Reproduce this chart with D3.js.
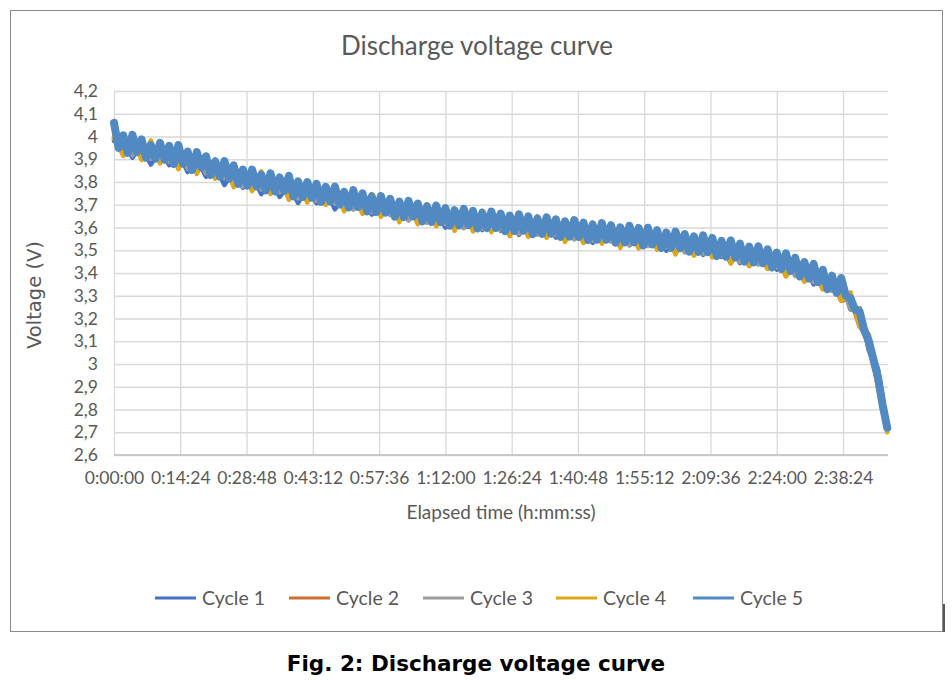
<!DOCTYPE html>
<html>
<head>
<meta charset="utf-8">
<script src="https://cdn.jsdelivr.net/npm/d3@7"></script>
<style>
  html, body { margin: 0; padding: 0; background: #ffffff; }
  svg { display: block; }
</style>
</head>
<body>
<div id="chart"></div>
<script>
// ---------------- DATA ----------------
const chartTitle = "Discharge voltage curve";
const figCaption = "Fig. 2: Discharge voltage curve";
const xAxisTitle = "Elapsed time (h:mm:ss)";
const yAxisTitle = "Voltage (V)";

const seriesNames = ["Cycle 1", "Cycle 2", "Cycle 3", "Cycle 4", "Cycle 5"];
const seriesColors = ["#4472C4", "#CD6F30", "#9B9B9B", "#DFA716", "#5189C3"];

// x tick values (seconds) and their labels
const xTickSeconds = [0, 864, 1728, 2592, 3456, 4320, 5184, 6048, 6912, 7776, 8640, 9504];
const xTickLabels = ["0:00:00", "0:14:24", "0:28:48", "0:43:12", "0:57:36", "1:12:00",
                     "1:26:24", "1:40:48", "1:55:12", "2:09:36", "2:24:00", "2:38:24"];
const yTickValues = [2.6, 2.7, 2.8, 2.9, 3.0, 3.1, 3.2, 3.3, 3.4, 3.5, 3.6, 3.7, 3.8, 3.9, 4.0, 4.1, 4.2];
const yTickLabels = ["2,6", "2,7", "2,8", "2,9", "3", "3,1", "3,2", "3,3", "3,4", "3,5",
                     "3,6", "3,7", "3,8", "3,9", "4", "4,1", "4,2"];

const xMaxSeconds = 10090;
// sampling intervals of the logged data (seconds)
const sampleIntervalC1to4 = 120;
const sampleIntervalC5 = 60;

// Voltage readings (V)
const cycle1 = [3.98, 3.985, 3.907, 3.957, 3.877, 3.942, 3.874, 3.932, 3.844, 3.901,
  3.823, 3.87, 3.787, 3.848, 3.775, 3.83, 3.747, 3.808, 3.735, 3.787,
  3.708, 3.775, 3.707, 3.764, 3.68, 3.742, 3.684, 3.735, 3.657, 3.723,
  3.656, 3.714, 3.632, 3.695, 3.623, 3.676, 3.60, 3.671, 3.607, 3.668,
  3.589, 3.655, 3.586, 3.642, 3.568, 3.639, 3.574, 3.635, 3.556, 3.622,
  3.553, 3.607, 3.533, 3.604, 3.54, 3.601, 3.522, 3.588, 3.519, 3.573,
  3.498, 3.567, 3.501, 3.561, 3.48, 3.544, 3.471, 3.523, 3.444, 3.511,
  3.442, 3.499, 3.415, 3.471, 3.392, 3.438, 3.35, 3.404, 3.323, 3.368,
  3.24, 3.245, 3.06, 2.97, 2.72];

const cycle2 = [3.99, 3.925, 3.977, 3.907, 3.972, 3.892, 3.944, 3.867, 3.919, 3.846,
  3.908, 3.825, 3.872, 3.788, 3.84, 3.77, 3.837, 3.758, 3.81, 3.732,
  3.788, 3.72, 3.787, 3.709, 3.76, 3.682, 3.739, 3.67, 3.737, 3.658,
  3.711, 3.634, 3.692, 3.625, 3.693, 3.616, 3.67, 3.596, 3.657, 3.593,
  3.664, 3.59, 3.646, 3.572, 3.633, 3.569, 3.639, 3.565, 3.621, 3.547,
  3.608, 3.542, 3.613, 3.539, 3.595, 3.521, 3.582, 3.518, 3.589, 3.513,
  3.568, 3.492, 3.551, 3.486, 3.555, 3.479, 3.521, 3.443, 3.499, 3.431,
  3.497, 3.419, 3.47, 3.386, 3.437, 3.363, 3.42, 3.329, 3.368, 3.278,
  3.29, 3.165, 3.11, 2.905, 2.71];

const cycle3 = [3.99, 4.005, 3.917, 3.977, 3.902, 3.967, 3.889, 3.947, 3.859, 3.916,
  3.838, 3.90, 3.817, 3.868, 3.78, 3.84, 3.767, 3.833, 3.755, 3.812,
  3.728, 3.79, 3.717, 3.784, 3.705, 3.762, 3.679, 3.74, 3.667, 3.733,
  3.656, 3.714, 3.632, 3.695, 3.623, 3.691, 3.615, 3.676, 3.597, 3.663,
  3.594, 3.665, 3.591, 3.652, 3.573, 3.639, 3.569, 3.64, 3.566, 3.627,
  3.548, 3.612, 3.543, 3.614, 3.54, 3.601, 3.522, 3.588, 3.519, 3.588,
  3.513, 3.572, 3.491, 3.556, 3.485, 3.554, 3.476, 3.533, 3.449, 3.511,
  3.437, 3.504, 3.425, 3.476, 3.387, 3.443, 3.36, 3.414, 3.323, 3.368,
  3.24, 3.245, 3.06, 2.98, 2.72];

const cycle4 = [4.00, 3.915, 3.992, 3.897, 3.982, 3.882, 3.959, 3.857, 3.934, 3.836,
  3.918, 3.815, 3.887, 3.778, 3.855, 3.76, 3.847, 3.748, 3.825, 3.722,
  3.803, 3.71, 3.797, 3.699, 3.775, 3.672, 3.754, 3.66, 3.747, 3.648,
  3.726, 3.624, 3.707, 3.615, 3.703, 3.606, 3.685, 3.586, 3.672, 3.583,
  3.674, 3.58, 3.661, 3.562, 3.648, 3.559, 3.649, 3.555, 3.636, 3.537,
  3.623, 3.532, 3.623, 3.529, 3.61, 3.511, 3.597, 3.508, 3.599, 3.503,
  3.583, 3.482, 3.566, 3.476, 3.565, 3.469, 3.546, 3.443, 3.524, 3.431,
  3.517, 3.419, 3.495, 3.386, 3.462, 3.363, 3.44, 3.329, 3.393, 3.278,
  3.315, 3.165, 3.13, 2.895, 2.70];

const cycle5 = [4.06, 3.95, 4.005, 3.928, 4.007, 3.932, 3.987, 3.907, 3.962, 3.902,
  3.972, 3.898, 3.959, 3.88, 3.962, 3.881, 3.934, 3.853, 3.931, 3.865,
  3.913, 3.831, 3.89, 3.823, 3.892, 3.815, 3.873, 3.792, 3.855, 3.784,
  3.855, 3.781, 3.832, 3.763, 3.838, 3.759, 3.82, 3.761, 3.827, 3.737,
  3.803, 3.734, 3.80, 3.731, 3.792, 3.713, 3.779, 3.715, 3.78, 3.701,
  3.757, 3.688, 3.764, 3.69, 3.75, 3.671, 3.737, 3.668, 3.738, 3.665,
  3.726, 3.648, 3.714, 3.646, 3.717, 3.649, 3.705, 3.627, 3.693, 3.625,
  3.696, 3.623, 3.685, 3.608, 3.676, 3.609, 3.682, 3.61, 3.673, 3.596,
  3.664, 3.597, 3.67, 3.598, 3.661, 3.584, 3.652, 3.585, 3.658, 3.586,
  3.649, 3.571, 3.639, 3.572, 3.645, 3.573, 3.636, 3.559, 3.627, 3.56,
  3.633, 3.559, 3.622, 3.545, 3.613, 3.546, 3.619, 3.547, 3.61, 3.533,
  3.601, 3.534, 3.607, 3.535, 3.598, 3.521, 3.599, 3.526, 3.588, 3.51,
  3.578, 3.51, 3.582, 3.509, 3.571, 3.494, 3.561, 3.493, 3.565, 3.492,
  3.554, 3.475, 3.541, 3.472, 3.543, 3.468, 3.529, 3.45, 3.516, 3.447,
  3.517, 3.443, 3.504, 3.425, 3.49, 3.418, 3.486, 3.409, 3.467, 3.385,
  3.448, 3.376, 3.44, 3.36, 3.414, 3.329, 3.388, 3.313, 3.378, 3.30,
  3.29, 3.24, 3.23, 3.15, 3.10, 3.02, 2.94, 2.82, 2.72];

const seriesValues = [cycle1, cycle2, cycle3, cycle4, cycle5];
const seriesIntervals = [sampleIntervalC1to4, sampleIntervalC1to4, sampleIntervalC1to4, sampleIntervalC1to4, sampleIntervalC5];

// ---------------- LAYOUT ----------------
const W = 952, H = 680;
const plot = { left: 114, right: 888, top: 91, bottom: 455 };
const textColor = "#595959";
const tickFont = "Lato, 'Open Sans', sans-serif";
const seriesWidths = [4.6, 4.6, 4.6, 4.6, 8];

const svg = d3.select("#chart").append("svg")
  .attr("width", W).attr("height", H);

svg.append("rect").attr("x", 0).attr("y", 0).attr("width", W).attr("height", H).attr("fill", "#fff");

// outer chart border
svg.append("rect")
  .attr("x", 10.5).attr("y", 10.5).attr("width", 932).attr("height", 621)
  .attr("fill", "#fff").attr("stroke", "#8a8a8a").attr("stroke-width", 1);
// small dark edge at right bottom
svg.append("line").attr("x1", 944).attr("x2", 944).attr("y1", 604).attr("y2", 632)
  .attr("stroke", "#222").attr("stroke-width", 1.5);

const x = d3.scaleLinear().domain([0, xMaxSeconds]).range([plot.left, plot.right]);
const y = d3.scaleLinear().domain([2.6, 4.2]).range([plot.bottom, plot.top]);

// horizontal gridlines
const yAxisG = svg.append("g").attr("transform", `translate(${plot.left},0)`)
  .call(d3.axisLeft(y).tickValues(yTickValues)
    .tickSize(-(plot.right - plot.left))
    .tickFormat((d, i) => yTickLabels[i]));
yAxisG.select(".domain").remove();
yAxisG.selectAll(".tick line").attr("stroke", "#d9d9d9").attr("stroke-width", 1.3);
yAxisG.selectAll(".tick text")
  .attr("x", -16).attr("fill", textColor)
  .style("font-family", tickFont).style("font-size", "17.5px");

// vertical gridlines + x labels
const xAxisG = svg.append("g").attr("transform", `translate(0,${plot.bottom})`)
  .call(d3.axisBottom(x).tickValues(xTickSeconds)
    .tickSize(-(plot.bottom - plot.top))
    .tickFormat((d, i) => xTickLabels[i]));
xAxisG.select(".domain").remove();
xAxisG.selectAll(".tick line").attr("stroke", "#d9d9d9").attr("stroke-width", 1.3);
xAxisG.selectAll(".tick text")
  .attr("y", 17).attr("fill", textColor)
  .style("font-family", tickFont).style("font-size", "17.5px");

// bottom axis line
svg.append("line")
  .attr("x1", plot.left).attr("x2", plot.right)
  .attr("y1", plot.bottom).attr("y2", plot.bottom)
  .attr("stroke", "#bfbfbf").attr("stroke-width", 1.3);

// series
const line = d3.line()
  .x(d => x(d.t))
  .y(d => y(d.v))
  .curve(d3.curveLinear);

const seriesData = seriesNames.map((name, si) => ({
  name,
  color: seriesColors[si],
  width: seriesWidths[si],
  points: seriesValues[si].map((v, i) => ({ t: i * seriesIntervals[si], v }))
}));

svg.append("g").selectAll("path")
  .data(seriesData)
  .join("path")
  .attr("d", d => line(d.points))
  .attr("fill", "none")
  .attr("stroke", d => d.color)
  .attr("stroke-width", d => d.width)
  .attr("stroke-linejoin", "round")
  .attr("stroke-linecap", "round");

// title
svg.append("text")
  .attr("x", 477).attr("y", 55)
  .attr("text-anchor", "middle")
  .attr("fill", textColor)
  .style("font-family", tickFont).style("font-size", "26px")
  .text(chartTitle);

// x axis title
svg.append("text")
  .attr("x", 501).attr("y", 519)
  .attr("text-anchor", "middle")
  .attr("fill", textColor)
  .style("font-family", tickFont).style("font-size", "19px")
  .text(xAxisTitle);

// y axis title
svg.append("text")
  .attr("transform", "translate(41,295) rotate(-90)")
  .attr("text-anchor", "middle")
  .attr("fill", textColor)
  .style("font-family", "'DejaVu Sans', Verdana, sans-serif").style("font-size", "19.5px")
  .text(yAxisTitle);

// legend
const legendX = [155, 289, 423, 556, 693];
const legend = svg.append("g").selectAll("g")
  .data(seriesData)
  .join("g")
  .attr("transform", (d, i) => `translate(${legendX[i]},598)`);
legend.append("line")
  .attr("x1", 0).attr("x2", 41).attr("y1", 0).attr("y2", 0)
  .attr("stroke", d => d.color).attr("stroke-width", 3);
legend.append("text")
  .attr("x", 47).attr("y", 7)
  .attr("fill", textColor)
  .style("font-family", tickFont).style("font-size", "19.5px")
  .text(d => d.name);

// caption
svg.append("text")
  .attr("x", 476).attr("y", 671)
  .attr("text-anchor", "middle")
  .attr("fill", "#000")
  .style("font-family", "'DejaVu Sans', Verdana, sans-serif")
  .style("font-weight", "bold").style("font-size", "21.5px")
  .text(figCaption);
</script>
</body>
</html>
